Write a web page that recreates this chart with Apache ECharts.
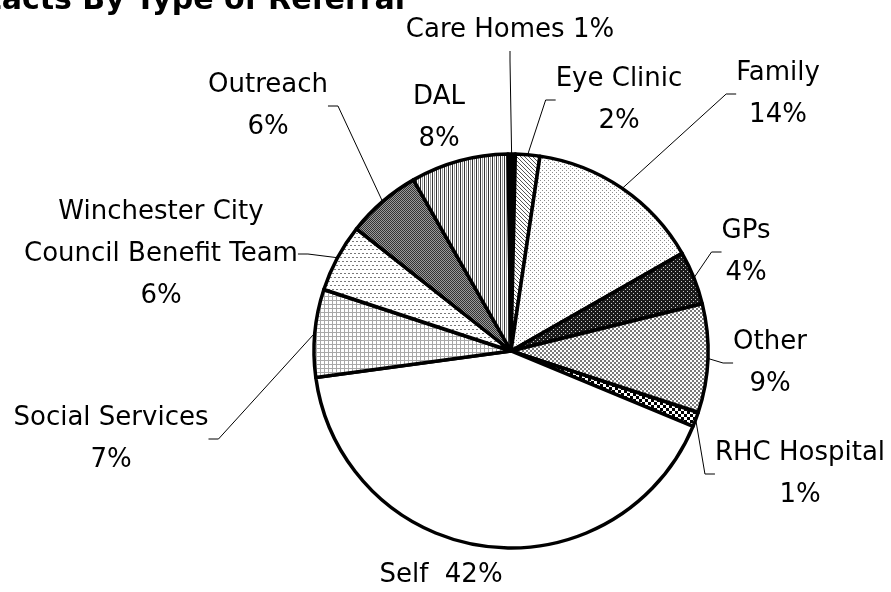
<!DOCTYPE html>
<html>
<head>
<meta charset="utf-8">
<script src="https://cdn.jsdelivr.net/npm/echarts@6/dist/echarts.min.js"></script>
<style>
html,body{margin:0;padding:0;background:#fff;}
#chart{width:891px;height:592px;}
</style>
</head>
<body>
<div id="chart"></div>
<script>
// ---- data ----
const titleText = 'Contacts By Type of Referral';
const categories = ['Care Homes', 'Eye Clinic', 'Family', 'GPs', 'Other', 'RHC Hospital', 'Self',
  'Social Services', 'Winchester City\nCouncil Benefit Team', 'Outreach', 'DAL'];
const values = [0.6, 2.0, 14.4, 4.4, 8.9, 1.2, 41.6, 7.2, 5.6, 6.1, 8.0];
// separator between name and percentage in each label
const labelSeparators = [' ', '\n', '\n', '\n', '\n', '\n', '  ', '\n', '\n', '\n', '\n'];

// ---- layout (label centres) ----
const labelPos = [
  [510, 30], [619, 100], [778, 94], [746, 252], [770, 363], [800, 474],
  [441, 575], [111, 439], [161, 254], [268, 106], [439, 118]
];
const showLeader = [true, true, true, true, true, true, false, true, true, true, false];

// ---- patterns ----
function pattern(w, h, bg, draw) {
  const c = document.createElement('canvas');
  c.width = w; c.height = h;
  const g = c.getContext('2d');
  g.fillStyle = bg; g.fillRect(0, 0, w, h);
  const px = (x, y, col) => { g.fillStyle = col; g.fillRect(x, y, 1, 1); };
  draw(px, g);
  return { image: c, repeat: 'repeat' };
}
const fills = [
  '#000000',
  pattern(4, 4, '#fff', px => { for (let i = 0; i < 4; i++) px(i, i, '#555'); }),
  pattern(4, 4, '#fff', px => { px(0, 0, '#8c8c8c'); px(2, 2, '#8c8c8c'); }),
  pattern(4, 4, '#1a1a1a', px => { px(1, 1, '#c8c8c8'); px(3, 3, '#c8c8c8'); }),
  pattern(4, 4, '#fff', (px, g) => { g.fillStyle = '#7a7a7a'; g.fillRect(0, 0, 2, 2); g.fillRect(2, 2, 2, 2); }),
  pattern(6, 6, '#fff', (px, g) => { g.fillStyle = '#000'; g.fillRect(0, 0, 3, 3); g.fillRect(3, 3, 3, 3); }),
  '#ffffff',
  pattern(4, 4, '#fff', (px, g) => { g.fillStyle = '#a8a8a8'; g.fillRect(0, 0, 4, 1); g.fillRect(0, 0, 1, 4); }),
  pattern(4, 8, '#fff', px => { px(0, 1, '#777'); px(1, 1, '#777'); px(2, 5, '#777'); px(3, 5, '#777'); }),
  pattern(4, 4, '#9a9a9a', px => { for (let i = 0; i < 4; i++) { px(i, i, '#333'); px((i + 2) % 4, i, '#333'); } }),
  pattern(4, 4, '#fff', (px, g) => { g.fillStyle = '#333'; g.fillRect(0, 0, 1, 4); g.fillStyle = '#999'; g.fillRect(2, 0, 1, 4); })
];

const FONT = '"Comic Sans MS", "DejaVu Sans", sans-serif';

const chart = echarts.init(document.getElementById('chart'), null, { renderer: 'canvas' });
chart.setOption({
  backgroundColor: '#fff',
  animation: false,
  graphic: [{
    type: 'text',
    x: 405, y: 1,
    style: {
      text: titleText,
      font: 'bold 30px ' + FONT,
      fill: '#000',
      align: 'right',
      verticalAlign: 'middle'
    }
  }],
  series: [{
    type: 'pie',
    center: [511, 351],
    radius: 197,
    startAngle: 90.9,
    clockwise: true,
    avoidLabelOverlap: false,
    itemStyle: { borderColor: '#000', borderWidth: 3.5 },
    label: {
      show: true,
      position: 'outside',
      color: '#000',
      fontFamily: FONT,
      fontSize: 26,
      lineHeight: 42,
      align: 'center',
      formatter: p => p.name + labelSeparators[p.dataIndex] + Math.round(p.percent) + '%'
    },
    labelLine: {
      show: true,
      length: 20,
      length2: 10,
      lineStyle: { color: '#000', width: 1 }
    },
    labelLayout: p => ({
      x: labelPos[p.dataIndex][0],
      y: labelPos[p.dataIndex][1],
      align: 'center',
      verticalAlign: 'middle'
    }),
    data: categories.map((c, i) => ({
      name: c,
      value: values[i],
      itemStyle: { color: fills[i] },
      labelLine: { show: showLeader[i] }
    }))
  }]
});
</script>
</body>
</html>
